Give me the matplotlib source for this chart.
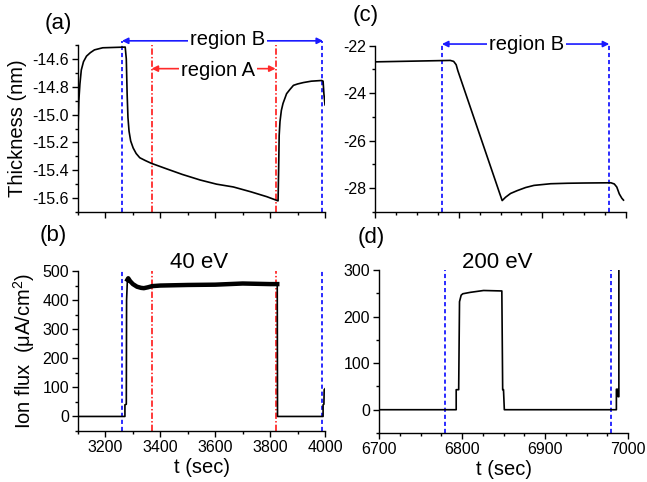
import numpy as np
import matplotlib
matplotlib.use("Agg")
import matplotlib.pyplot as plt
from matplotlib.ticker import MultipleLocator

plt.rcParams['font.family'] = ['Liberation Sans', 'DejaVu Sans']
plt.rcParams['mathtext.fontset'] = 'custom'
plt.rcParams['mathtext.rm'] = 'Liberation Sans'
plt.rcParams['mathtext.default'] = 'rm'
plt.rcParams['axes.unicode_minus'] = False

# --- 40 eV run: film thickness (a) and ion flux (b) ---
t_thick_40 = [3100, 3103, 3107, 3112, 3120, 3131, 3145, 3160, 3190, 3272,
              3276, 3279, 3282, 3286, 3292, 3301, 3312, 3325, 3345, 3367,
              3395, 3423, 3480, 3545, 3605, 3666, 3730, 3788, 3829,
              3831, 3833, 3836, 3841, 3847, 3860, 3872, 3885, 3900, 3921,
              3950, 3988, 3993, 3996, 4000]
thick_40 = [-15.10, -14.90, -14.78, -14.68, -14.62, -14.58, -14.555, -14.535, -14.52, -14.515,
            -14.60, -14.85, -15.02, -15.12, -15.19, -15.24, -15.28, -15.31, -15.33, -15.35,
            -15.37, -15.39, -15.43, -15.47, -15.50, -15.52, -15.555, -15.59, -15.62,
            -15.40, -15.15, -15.05, -14.97, -14.92, -14.85, -14.82, -14.79, -14.78, -14.77,
            -14.76, -14.755, -14.76, -14.85, -14.93]

t_flux_40 = [3100, 3271, 3271, 3276, 3277, 3280, 3283, 3290, 3300, 3315,
             3330, 3340, 3355, 3370, 3400, 3450, 3500, 3600, 3700, 3800,
             3826, 3827, 3993, 3993, 3996, 3997, 4000]
flux_40 = [0, 0, 40, 42, 400, 470, 475, 465, 455, 446,
           442, 441, 444, 448, 450, 451, 452, 453, 457, 455,
           455, 0, 0, 40, 42, 92, 95]

# --- 200 eV run: film thickness (c) and ion flux (d) ---
t_thick_200 = [6700, 6790, 6794, 6797, 6799, 6852, 6856, 6862, 6870, 6880,
               6890, 6910, 6930, 6950, 6982, 6986, 6989, 6992, 6995, 6997]
thick_200 = [-22.68, -22.62, -22.66, -22.80, -23.05, -28.52, -28.38, -28.22, -28.10, -27.97,
             -27.88, -27.81, -27.79, -27.78, -27.77, -27.82, -27.95, -28.24, -28.42, -28.50]

t_flux_200 = [6700, 6793, 6793, 6796, 6797, 6799, 6801, 6810, 6826, 6848,
              6849, 6850, 6851, 6986, 6986, 6988, 6988, 6989, 6989, 7000]
flux_200 = [0, 0, 43, 43, 232, 246, 249, 252, 256, 255,
            43, 43, 0, 0, 44, 44, 28, 28, 320, 320]

# region boundaries (sec)
regA_40 = [3368, 3820]
regB_40 = [3260, 3990]
regB_200 = [6780, 6980]

BLUE = '#1a1aff'
RED = '#ff2a2a'
W, H = 647, 482

fig = plt.figure(figsize=(W / 100, H / 100), dpi=100)


def box(l, t, r, b):
    return [l / W, 1 - b / H, (r - l) / W, (b - t) / H]


ax_a = fig.add_axes(box(78, 45, 325, 212))
ax_b = fig.add_axes(box(78, 271, 325, 431))
ax_c = fig.add_axes(box(375, 45.7, 626, 212))
ax_d = fig.add_axes(box(379, 270, 628, 433))

for ax in (ax_a, ax_b, ax_c, ax_d):
    for s in ('top', 'right'):
        ax.spines[s].set_visible(False)
    for s in ('left', 'bottom'):
        ax.spines[s].set_linewidth(1.0)
    ax.tick_params(which='both', direction='out', labelsize=11.5, width=1.0)
    ax.tick_params(which='major', length=4, pad=2.5)
    ax.tick_params(which='minor', length=2.5)

blue_kw = dict(color=BLUE, lw=1.3, dashes=(2.3, 1.6))
red_kw = dict(color=RED, lw=1.3, dashes=(3.5, 1.2, 0.8, 1.2))

# (a)
ax_a.plot(t_thick_40, thick_40, color='black', lw=1.2, zorder=3)
ax_a.set_xlim(3100, 4000)
ax_a.set_ylim(-15.7, -14.5)
ax_a.xaxis.set_major_locator(MultipleLocator(200))
ax_a.xaxis.set_minor_locator(MultipleLocator(100))
ax_a.yaxis.set_major_locator(MultipleLocator(0.2))
ax_a.yaxis.set_minor_locator(MultipleLocator(0.1))
ax_a.yaxis.set_major_formatter(plt.FormatStrFormatter('%.1f'))
ax_a.tick_params(axis='x', labelbottom=False)
ax_a.set_ylabel('Thickness (nm)', fontsize=14.5, labelpad=4)

yB = -14.47
yA = -14.67
for x in regB_40:
    ax_a.plot([x, x], [-15.7, yB], clip_on=False, **blue_kw)
for x in regA_40:
    ax_a.plot([x, x], [-15.7, -14.5], clip_on=False, **red_kw)
ax_a.annotate('', xy=(regB_40[1] + 3, yB), xytext=(regB_40[0], yB),
              arrowprops=dict(arrowstyle='<|-|>', color=BLUE, lw=1.2,
                              mutation_scale=9, shrinkA=0, shrinkB=0),
              annotation_clip=False)
ax_a.annotate('', xy=(regA_40[1], yA), xytext=(regA_40[0], yA),
              arrowprops=dict(arrowstyle='<|-|>', color=RED, lw=1.2,
                              mutation_scale=9, shrinkA=0, shrinkB=0),
              annotation_clip=False)
ax_a.text(3645, yB + 0.01, 'region B', fontsize=14.5, ha='center', va='center',
          bbox=dict(facecolor='white', edgecolor='none', pad=1.5), zorder=5, clip_on=False)
ax_a.text(3610, yA - 0.01, 'region A', fontsize=14.5, ha='center', va='center',
          bbox=dict(facecolor='white', edgecolor='none', pad=1.5), zorder=5)

# (b)
ax_b.plot(t_flux_40, flux_40, color='black', lw=1.2, zorder=3)
# the flux reading is noisy on the plateau, drawn as a thicker trace
ax_b.plot(t_flux_40[5:21], flux_40[5:21], color='black', lw=3.2, zorder=3)
ax_b.set_xlim(3100, 4000)
ax_b.set_ylim(-50, 500)
ax_b.xaxis.set_major_locator(MultipleLocator(200))
ax_b.xaxis.set_minor_locator(MultipleLocator(100))
ax_b.yaxis.set_major_locator(MultipleLocator(100))
ax_b.yaxis.set_minor_locator(MultipleLocator(50))
ax_b.set_xlabel('t (sec)', fontsize=14.5, labelpad=2)
ax_b.set_ylabel('Ion flux  (μA/cm$^{2}$)', fontsize=14.5, labelpad=4)
for x in regB_40:
    ax_b.axvline(x, **blue_kw)
for x in regA_40:
    ax_b.axvline(x, **red_kw)

# (c)
ax_c.plot(t_thick_200, thick_200, color='black', lw=1.2, zorder=3)
ax_c.set_xlim(6700, 7000)
ax_c.set_ylim(-29, -22)
ax_c.xaxis.set_major_locator(MultipleLocator(100))
ax_c.xaxis.set_minor_locator(MultipleLocator(25))
ax_c.yaxis.set_major_locator(MultipleLocator(2))
ax_c.yaxis.set_minor_locator(MultipleLocator(1))
ax_c.tick_params(axis='x', labelbottom=False)
yC = -21.93
for x in regB_200:
    ax_c.plot([x, x], [-29, yC], clip_on=False, **blue_kw)
ax_c.annotate('', xy=(regB_200[1], yC), xytext=(regB_200[0], yC),
              arrowprops=dict(arrowstyle='<|-|>', color=BLUE, lw=1.2,
                              mutation_scale=9, shrinkA=0, shrinkB=0),
              annotation_clip=False)
ax_c.text(6881, yC - 0.03, 'region B', fontsize=14.5, ha='center', va='center',
          bbox=dict(facecolor='white', edgecolor='none', pad=1.5), zorder=5, clip_on=False)

# (d)
ax_d.plot(t_flux_200, flux_200, color='black', lw=1.2, zorder=3)
ax_d.set_xlim(6700, 7000)
ax_d.set_ylim(-50, 300)
ax_d.xaxis.set_major_locator(MultipleLocator(100))
ax_d.xaxis.set_minor_locator(MultipleLocator(25))
ax_d.yaxis.set_major_locator(MultipleLocator(100))
ax_d.yaxis.set_minor_locator(MultipleLocator(50))
ax_d.set_xlabel('t (sec)', fontsize=14.5, labelpad=2)
for x in regB_200:
    ax_d.axvline(x, **blue_kw)

# panel letters and energies
def ftext(x, y, s, size):
    fig.text(x / W, 1 - y / H, s, fontsize=size, ha='center', va='center')


ftext(58, 23, '(a)', 16)
ftext(53, 235, '(b)', 16)
ftext(366, 16, '(c)', 16)
ftext(371, 237, '(d)', 16)
ftext(199, 263, '40 eV', 16)
ftext(497, 263, '200 eV', 16)

fig.savefig('out.png', dpi=100)
